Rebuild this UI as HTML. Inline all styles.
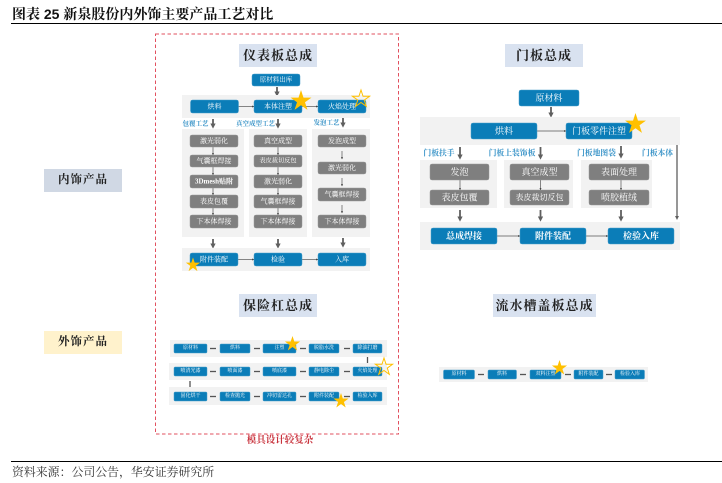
<!DOCTYPE html>
<html><head><meta charset="utf-8"><style>
html,body{margin:0;padding:0;background:#fff;width:722px;height:483px;overflow:hidden}
svg{display:block;filter:blur(.3px)}
text{font-family:"Liberation Serif","Noto Serif CJK SC",serif;text-anchor:middle;dominant-baseline:central}
.b{fill:#0b7db8;stroke:#4a9fcb;stroke-width:.5}
.g{fill:#7f7f7f;stroke:#999;stroke-width:.5}
.band{fill:#f2f2f2}
.w{fill:#fff}
.t{fill:#222;font-size:13px;font-weight:bold;letter-spacing:1px}
.l{fill:#3a94c8;font-size:6.5px;font-weight:bold}
.l2{fill:#3a94c8;font-size:9px;font-weight:bold}
.a{stroke:#5f5f5f;stroke-width:1.8;marker-end:url(#m)}
.n{stroke:#555;stroke-width:.7;marker-end:url(#s)}
.d{stroke:#555;stroke-width:1.3}
.star{fill:#ffc000}
.ostar{fill:none;stroke:#ffc000;stroke-width:1}
</style></head><body>
<svg width="722" height="483" viewBox="0 0 722 483" xmlns="http://www.w3.org/2000/svg">
<defs>
<marker id="m" markerWidth="3" markerHeight="3" refX="1.5" refY="1.5" orient="auto"><path d="M0 0L3 1.5L0 3z" fill="#5f5f5f"/></marker>
<marker id="s" markerWidth="4" markerHeight="4" refX="3" refY="2" orient="auto"><path d="M0 .5L3.5 2L0 3.5z" fill="#444"/></marker>
<polygon id="st" points="0,-1 .225,-.309 .951,-.309 .363,.118 .588,.809 0,.382 -.588,.809 -.363,.118 -.951,-.309 -.225,-.309"/>
</defs>

<!-- header -->
<text x="12" y="14" style="text-anchor:start;font-size:14px;font-weight:bold;font-family:'Liberation Sans','Noto Serif CJK SC',serif" fill="#111"><tspan font-family="Noto Serif CJK SC">图表</tspan> 25 <tspan font-family="Noto Serif CJK SC">新泉股份内外饰主要产品工艺对比</tspan></text>
<rect x="11" y="23" width="711" height="1" fill="#000"/>

<!-- dashed -->
<rect x="155.5" y="34" width="243" height="400" fill="none" stroke="#e2505f" stroke-width="1" stroke-dasharray="3.5 2.5"/>
<text x="280" y="441" fill="#c8323c" style="font-size:9.5px;font-weight:bold">模具设计较复杂</text>

<!-- side labels -->
<rect x="44" y="169" width="78" height="23" fill="#d0d8e4"/><text x="83" y="180" class="t" style="font-size:11.5px">内饰产品</text>
<rect x="44" y="331" width="78" height="23" fill="#fff2cc"/><text x="83" y="342" class="t" style="font-size:11.5px">外饰产品</text>

<!-- titles -->
<rect x="239" y="44" width="78" height="23" fill="#d9e2f0"/><text x="278" y="55.5" class="t">仪表板总成</text>
<rect x="505" y="44" width="78" height="23" fill="#d9e2f0"/><text x="544" y="55.5" class="t">门板总成</text>
<rect x="239" y="294" width="78" height="23" fill="#d9e2f0"/><text x="278" y="305.5" class="t">保险杠总成</text>
<rect x="493" y="294" width="103" height="23" fill="#d9e2f0"/><text x="544.5" y="305.5" class="t">流水槽盖板总成</text>

<!-- dashboard -->
<rect x="252" y="74" width="48" height="12" rx="2" class="b"/><text x="276" y="80" class="w" font-size="6.5">原材料出库</text>
<line x1="277" y1="87" x2="277" y2="94" class="a"/>
<rect x="182" y="95" width="188" height="23" class="band"/>
<line x1="238" y1="106.5" x2="254" y2="106.5" class="n"/><line x1="302" y1="106.5" x2="318" y2="106.5" class="n"/>
<rect x="190.5" y="100" width="48" height="13" rx="2" class="b"/><text x="214.5" y="106.5" class="w" font-size="7">烘料</text>
<rect x="254" y="100" width="48" height="13" rx="2" class="b"/><text x="278" y="106.5" class="w" font-size="7">本体注塑</text>
<rect x="318" y="100" width="48" height="13" rx="2" class="b"/><text x="342" y="106.5" class="w" font-size="7">火焰处理</text>
<use href="#st" class="star" transform="translate(301,101) scale(11)"/>
<polygon class="ostar" points="361,90 363.03,96.22 369.56,96.22 364.27,100.06 366.29,106.28 361,102.44 355.71,106.28 357.73,100.06 352.44,96.22 358.97,96.22"/>

<text x="195.5" y="124" class="l">包覆工艺</text><text x="255.5" y="124" class="l">真空成型工艺</text><text x="326.5" y="123" class="l">发泡工艺</text>
<line x1="213" y1="119" x2="213" y2="126" class="a"/><line x1="278" y1="119" x2="278" y2="126" class="a"/><line x1="343" y1="118" x2="343" y2="125" class="a"/>

<rect x="182" y="129" width="62" height="108" class="band"/><rect x="249" y="129" width="58" height="108" class="band"/><rect x="312" y="129" width="58" height="108" class="band"/>

<g stroke="#555" stroke-width=".7" marker-end="url(#s)">
<line x1="213" y1="147" x2="213" y2="155"/><line x1="213" y1="167" x2="213" y2="175"/><line x1="213" y1="188" x2="213" y2="195"/><line x1="213" y1="208" x2="213" y2="215"/>
<line x1="278" y1="147" x2="278" y2="155"/><line x1="278" y1="167" x2="278" y2="175"/><line x1="278" y1="188" x2="278" y2="195"/><line x1="278" y1="208" x2="278" y2="215"/>
<line x1="342" y1="151" x2="342" y2="159"/><line x1="342" y1="178" x2="342" y2="186"/><line x1="342" y1="205" x2="342" y2="213"/>
</g>
<g class="g">
<rect x="190" y="135" width="48" height="12" rx="2"/><rect x="190" y="155" width="48" height="12" rx="2"/><rect x="190" y="175" width="48" height="13" rx="2"/><rect x="190" y="195" width="48" height="13" rx="2"/><rect x="190" y="215" width="48" height="13" rx="2"/>
<rect x="254" y="135" width="48" height="12" rx="2"/><rect x="254" y="155" width="48" height="12" rx="2"/><rect x="254" y="175" width="48" height="13" rx="2"/><rect x="254" y="195" width="48" height="13" rx="2"/><rect x="254" y="215" width="48" height="13" rx="2"/>
<rect x="318" y="135" width="48" height="12" rx="2"/><rect x="318" y="162" width="48" height="12" rx="2"/><rect x="318" y="188" width="48" height="13" rx="2"/><rect x="318" y="215" width="48" height="13" rx="2"/>
</g>
<g class="w" font-size="7">
<text x="214" y="141">激光弱化</text><text x="214" y="161">气囊框焊接</text><text x="214" y="181.5" font-weight="bold">3Dmesh贴附</text><text x="214" y="201.5">表皮包覆</text><text x="214" y="221.5">下本体焊接</text>
<text x="278" y="141">真空成型</text><text x="278" y="161" font-size="6.2">表皮裁切反包</text><text x="278" y="181.5">激光弱化</text><text x="278" y="201.5">气囊框焊接</text><text x="278" y="221.5">下本体焊接</text>
<text x="342" y="141">发泡成型</text><text x="342" y="168">激光弱化</text><text x="342" y="194.5">气囊框焊接</text><text x="342" y="221.5">下本体焊接</text>
</g>
<line x1="213" y1="239" x2="213" y2="246" class="a"/><line x1="278" y1="239" x2="278" y2="246" class="a"/><line x1="343" y1="238" x2="343" y2="245" class="a"/>
<rect x="182" y="248" width="188" height="23" class="band"/>
<line x1="238" y1="259.5" x2="254" y2="259.5" class="n"/><line x1="302" y1="259.5" x2="318" y2="259.5" class="n"/>
<rect x="190" y="253" width="48" height="13" rx="2" class="b"/><text x="214" y="259.5" class="w" font-size="7">附件装配</text>
<rect x="254" y="253" width="48" height="13" rx="2" class="b"/><text x="278" y="259.5" class="w" font-size="7">检验</text>
<rect x="318" y="253" width="48" height="13" rx="2" class="b"/><text x="342" y="259.5" class="w" font-size="7">入库</text>
<use href="#st" class="star" transform="translate(193,265) scale(7.5)"/>

<!-- door -->
<rect x="519" y="90" width="60" height="16" rx="2" class="b"/><text x="549" y="98" class="w" font-size="9">原材料</text>
<line x1="551" y1="107" x2="551" y2="115" class="a"/>
<rect x="420" y="117" width="260" height="28" class="band"/>
<line x1="537" y1="131" x2="566" y2="131" class="n"/>
<rect x="471" y="123" width="66" height="16" rx="2" class="b"/><text x="504" y="131" class="w" font-size="9">烘料</text>
<rect x="566" y="123" width="66" height="16" rx="2" class="b"/><text x="599" y="131" class="w" font-size="9">门板零件注塑</text>
<use href="#st" class="star" transform="translate(635.5,124) scale(11)"/>
<text x="439" y="153" class="l2" style="font-size:7.8px">门板扶手</text><text x="512" y="153" class="l2" style="font-size:7.8px">门板上装饰板</text><text x="596.5" y="153" class="l2" style="font-size:7.8px">门板地图袋</text><text x="657.5" y="153" class="l2" style="font-size:7.8px">门板本体</text>
<line x1="460" y1="147" x2="460" y2="157" class="a"/><line x1="540.5" y1="147" x2="540.5" y2="157" class="a"/><line x1="621" y1="146" x2="621" y2="156" class="a"/>
<rect x="420" y="160" width="77" height="48" class="band"/><rect x="504" y="160" width="69" height="48" class="band"/><rect x="581" y="160" width="71" height="48" class="band"/>
<line x1="460" y1="179" x2="460" y2="190" class="n"/><line x1="540.5" y1="179" x2="540.5" y2="190" class="n"/><line x1="621" y1="179" x2="621" y2="190" class="n"/>
<g class="g">
<rect x="430" y="164" width="59" height="16" rx="2"/><rect x="430" y="190" width="59" height="15" rx="2"/>
<rect x="510" y="164" width="59" height="16" rx="2"/><rect x="510" y="190" width="59" height="15" rx="2"/>
<rect x="589" y="164" width="60" height="16" rx="2"/><rect x="589" y="190" width="60" height="15" rx="2"/>
</g>
<g class="w" font-size="9">
<text x="459.5" y="172">发泡</text><text x="459.5" y="197.5">表皮包覆</text>
<text x="539.5" y="172">真空成型</text><text x="539.5" y="197.5" font-size="8">表皮裁切反包</text>
<text x="619" y="172">表面处理</text><text x="619" y="197.5">喷胶植绒</text>
</g>
<line x1="460" y1="210" x2="460" y2="219" class="a"/><line x1="540.5" y1="210" x2="540.5" y2="219" class="a"/><line x1="621" y1="210" x2="621" y2="219" class="a"/>
<line x1="677" y1="145" x2="677" y2="218" class="a" style="stroke-width:1.3"/>
<rect x="420" y="222" width="260" height="28" class="band"/>
<line x1="497" y1="236" x2="520" y2="236" class="n"/><line x1="586" y1="236" x2="608" y2="236" class="n"/>
<rect x="431" y="228" width="66" height="16" rx="2" class="b"/><text x="464" y="236" class="w" font-size="9" font-weight="bold">总成焊接</text>
<rect x="520" y="228" width="66" height="16" rx="2" class="b"/><text x="553" y="236" class="w" font-size="9" font-weight="bold">附件装配</text>
<rect x="608" y="228" width="66" height="16" rx="2" class="b"/><text x="641" y="236" class="w" font-size="9" font-weight="bold">检验入库</text>

<!-- bumper -->
<rect x="170" y="340" width="217" height="17" class="band"/><rect x="169" y="363" width="218" height="17" class="band"/><rect x="169" y="387" width="218" height="18" class="band"/>
<g class="d">
<line x1="210" y1="348.5" x2="216" y2="348.5"/><line x1="254" y1="348.5" x2="260" y2="348.5"/><line x1="300" y1="348.5" x2="306" y2="348.5"/><line x1="344" y1="348.5" x2="350" y2="348.5"/>
<line x1="210" y1="371.5" x2="216" y2="371.5"/><line x1="254" y1="371.5" x2="260" y2="371.5"/><line x1="300" y1="371.5" x2="306" y2="371.5"/><line x1="344" y1="371.5" x2="350" y2="371.5"/>
<line x1="210" y1="396.5" x2="216" y2="396.5"/><line x1="254" y1="396.5" x2="260" y2="396.5"/><line x1="300" y1="396.5" x2="306" y2="396.5"/><line x1="344" y1="396.5" x2="350" y2="396.5"/>
<line x1="367.5" y1="357" x2="367.5" y2="363"/><line x1="190" y1="381" x2="190" y2="387"/>
</g>
<g class="b">
<rect x="174" y="344" width="33" height="9" rx="1"/><rect x="220" y="344" width="30" height="9" rx="1"/><rect x="263" y="344" width="33" height="9" rx="1"/><rect x="309" y="344" width="30" height="9" rx="1"/><rect x="353" y="344" width="29" height="9" rx="1"/>
<rect x="174" y="367" width="33" height="9" rx="1"/><rect x="220" y="367" width="30" height="9" rx="1"/><rect x="263" y="367" width="33" height="9" rx="1"/><rect x="309" y="367" width="30" height="9" rx="1"/><rect x="353" y="367" width="29" height="9" rx="1"/>
<rect x="174" y="392" width="33" height="9" rx="1"/><rect x="220" y="392" width="30" height="9" rx="1"/><rect x="263" y="392" width="33" height="9" rx="1"/><rect x="309" y="392" width="30" height="9" rx="1"/><rect x="353" y="392" width="29" height="9" rx="1"/>
</g>
<g class="w" font-size="5">
<text x="190.5" y="348.5">原材料</text><text x="235" y="348.5">烘料</text><text x="279.5" y="348.5">注塑</text><text x="324" y="348.5">脱脂水洗</text><text x="367.5" y="348.5">除油打磨</text>
<text x="190.5" y="371.5">喷清光漆</text><text x="235" y="371.5">喷面漆</text><text x="279.5" y="371.5">喷底漆</text><text x="324" y="371.5">静电除尘</text><text x="367.5" y="371.5">火焰处理</text>
<text x="190.5" y="396.5">固化烘干</text><text x="235" y="396.5">检查抛光</text><text x="279.5" y="396.5">冲切雷达孔</text><text x="324" y="396.5">附件装配</text><text x="367.5" y="396.5">检验入库</text>
</g>
<use href="#st" class="star" transform="translate(292.5,344) scale(8)"/>
<polygon class="ostar" points="384,358 386.03,364.22 392.56,364.22 387.27,368.06 389.29,374.28 384,370.44 378.71,374.28 380.73,368.06 375.44,364.22 381.97,364.22"/>
<use href="#st" class="star" transform="translate(341,401) scale(8)"/>

<!-- flow cover -->
<rect x="439" y="367" width="209" height="15" class="band"/>
<g class="d">
<line x1="478" y1="374.5" x2="484" y2="374.5"/><line x1="520" y1="374.5" x2="526" y2="374.5"/><line x1="565" y1="374.5" x2="571" y2="374.5"/><line x1="606" y1="374.5" x2="612" y2="374.5"/>
</g>
<g class="b">
<rect x="443.5" y="370" width="31" height="9" rx="1"/><rect x="488" y="370" width="28.5" height="9" rx="1"/><rect x="530" y="370" width="31" height="9" rx="1"/><rect x="574" y="370" width="29" height="9" rx="1"/><rect x="615" y="370" width="29.5" height="9" rx="1"/>
</g>
<g class="w" font-size="5">
<text x="459" y="374.5">原材料</text><text x="502" y="374.5">烘料</text><text x="545.5" y="374.5">双料注塑</text><text x="588.5" y="374.5">附件装配</text><text x="630" y="374.5">检验入库</text>
</g>
<use href="#st" class="star" transform="translate(559.5,368) scale(8)"/>

<!-- footer -->
<rect x="11" y="461" width="711" height="1" fill="#000"/>
<text x="12" y="472" style="text-anchor:start;font-size:11.9px" fill="#333">资料来源：公司公告，华安证券研究所</text>
</svg>
</body></html>
